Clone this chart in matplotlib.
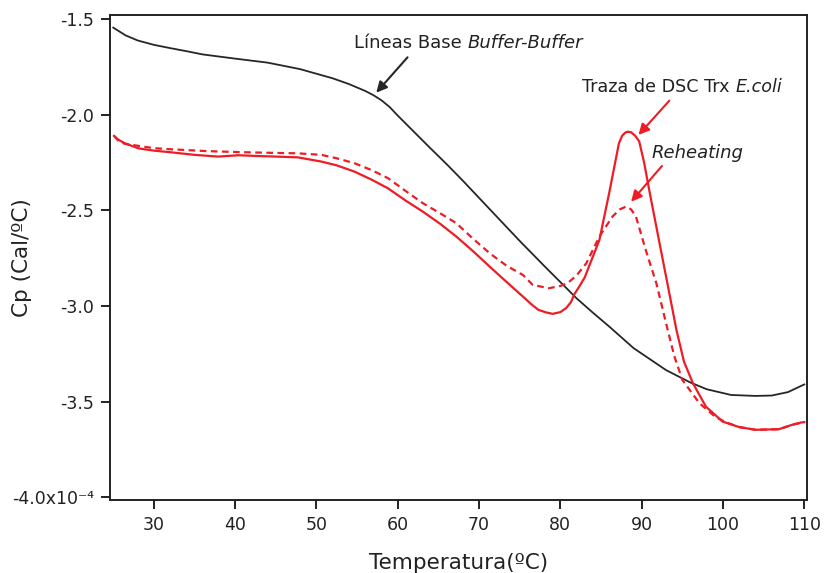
import numpy as np
import matplotlib.pyplot as plt

# Cp values in units of 1e-4 Cal/ºC
temp_base = [25.0, 26.5, 28.0, 30.0, 32.0, 34.0, 36.0, 40.0, 44.0, 48.0, 52.0, 54.0, 56.0,
             57.0, 58.0, 59.0, 60.0, 62.0, 64.0, 66.0, 68.0, 70.0, 72.0, 75.0, 78.0, 80.0,
             82.0, 84.0, 86.0, 89.0, 93.0, 96.0, 98.0, 101.0, 104.0, 106.0, 108.0, 110.0]
cp_base = [-1.545, -1.585, -1.612, -1.635, -1.652, -1.668, -1.685, -1.707, -1.728, -1.762,
           -1.81, -1.84, -1.876, -1.898, -1.925, -1.96, -2.005, -2.09, -2.175, -2.258,
           -2.345, -2.435, -2.525, -2.66, -2.79, -2.875, -2.96, -3.035, -3.107, -3.22,
           -3.335, -3.40, -3.435, -3.465, -3.47, -3.468, -3.45, -3.41]

temp_trx = [25.1, 25.6, 26.4, 28.1, 30.0, 32.2, 35.0, 37.9, 40.4, 42.8, 45.0, 47.7, 50.6,
            52.5, 54.7, 56.8, 58.8, 61.0, 63.1, 65.2, 67.2, 69.3, 71.3, 73.4, 75.4, 76.4,
            77.3, 78.2, 79.05, 80.0, 80.7, 81.3, 81.7, 82.3, 83.0, 83.6, 84.8, 86.0, 87.2,
            87.6, 88.0, 88.3, 88.7, 89.2, 89.7, 90.3, 91.0, 92.2, 93.4, 94.3, 95.2, 96.3,
            97.9, 99.95, 102.0, 104.0, 106.9, 108.5, 109.6, 110.0]
cp_trx = [-2.111, -2.13, -2.149, -2.176, -2.188, -2.197, -2.21, -2.219, -2.212, -2.216,
          -2.219, -2.223, -2.245, -2.265, -2.298, -2.34, -2.385, -2.45, -2.507, -2.57,
          -2.637, -2.715, -2.794, -2.875, -2.951, -2.99, -3.02, -3.033, -3.041, -3.032,
          -3.011, -2.98, -2.94, -2.90, -2.85, -2.785, -2.655, -2.41, -2.15, -2.11, -2.093,
          -2.089, -2.092, -2.11, -2.14, -2.25, -2.41, -2.672, -2.933, -3.13, -3.29, -3.403,
          -3.526, -3.604, -3.633, -3.647, -3.644, -3.621, -3.609, -3.607]

temp_reheat = [25.1, 25.6, 26.4, 28.1, 30.0, 32.2, 36.3, 40.0, 42.8, 47.7, 50.6, 52.5, 54.7,
               56.8, 58.8, 61.0, 63.1, 65.2, 67.2, 69.3, 71.3, 73.4, 75.4, 76.6, 78.6, 80.0,
               80.9, 82.0, 83.2, 84.8, 86.4, 87.3, 88.1, 88.7, 89.3, 90.5, 91.8, 93.0, 94.0,
               95.0, 97.1, 99.1, 100.5, 102.0, 104.0, 106.9, 108.5, 110.0]
cp_reheat = [-2.111, -2.135, -2.152, -2.163, -2.175, -2.181, -2.19, -2.195, -2.198, -2.202,
             -2.21, -2.228, -2.254, -2.29, -2.332, -2.40, -2.463, -2.515, -2.567, -2.65,
             -2.724, -2.79, -2.838, -2.89, -2.907, -2.895, -2.88, -2.84, -2.776, -2.637,
             -2.533, -2.495, -2.48, -2.495, -2.533, -2.707, -2.88, -3.09, -3.26, -3.386,
             -3.508, -3.581, -3.61, -3.633, -3.647, -3.644, -3.621, -3.607]

x_ticks = [30, 40, 50, 60, 70, 80, 90, 100, 110]
y_ticks = [-1.5, -2.0, -2.5, -3.0, -3.5, -4.0]
y_ticklabels = ["-1.5", "-2.0", "-2.5", "-3.0", "-3.5", "-4.0x10⁻⁴"]

RED = "#ee1c25"
DARK = "#262626"
INK = "#222222"

plt.rcParams["font.family"] = "DejaVu Sans"

fig = plt.figure(figsize=(8.24, 5.73), dpi=100)
ax = fig.add_axes([0.1335, 0.1274, 0.8455, 0.8464])

ax.plot(temp_base, cp_base, color=DARK, lw=1.3)
ax.plot(temp_trx, cp_trx, color=RED, lw=1.6)
ax.plot(temp_reheat, cp_reheat, color=RED, lw=1.6, ls=(0, (3, 2)))

ax.set_xlim(24.6, 110.3)
ax.set_ylim(-4.014, -1.479)
ax.set_xticks(x_ticks)
ax.set_yticks(y_ticks, labels=y_ticklabels)
ax.tick_params(direction="out", length=6.5, width=1.4, pad=5, labelsize=12.5, colors=INK)
for s in ax.spines.values():
    s.set_linewidth(1.4)
    s.set_color(INK)

ax.set_xlabel("Temperatura(ºC)", fontsize=15.5, color=INK, labelpad=14)
ax.set_ylabel("Cp (Cal/ºC)", fontsize=15.5, color=INK, va="center")
ax.yaxis.set_label_coords(-0.126, 0.5)


def rich_text(x, y, parts, size=13):
    # draw pieces one after another, each with its own style
    prev = ax.text(x, y, parts[0][0], fontsize=size, style=parts[0][1],
                   ha="left", va="center", color=INK)
    for txt, sty in parts[1:]:
        prev = ax.annotate(txt, xy=(1, 0), xycoords=prev, fontsize=size, style=sty,
                           ha="left", va="bottom", color=INK)


rich_text(54.6, -1.625, [("Líneas Base ", "normal"), ("Buffer-Buffer", "italic")])
rich_text(82.7, -1.855, [("Traza de DSC Trx ", "normal"), ("E.coli", "italic")], size=12.6)
rich_text(91.2, -2.2, [("Reheating", "italic")])

arrow = dict(arrowstyle="-|>", lw=1.5, mutation_scale=16, shrinkA=0, shrinkB=0)
ax.annotate("", xy=(57.35, -1.885), xytext=(61.2, -1.70),
            arrowprops=dict(arrow, color=DARK))
ax.annotate("", xy=(89.6, -2.106), xytext=(93.4, -1.927),
            arrowprops=dict(arrow, color=RED))
ax.annotate("", xy=(88.7, -2.455), xytext=(92.5, -2.268),
            arrowprops=dict(arrow, color=RED))

fig.savefig("out.png", dpi=100)
